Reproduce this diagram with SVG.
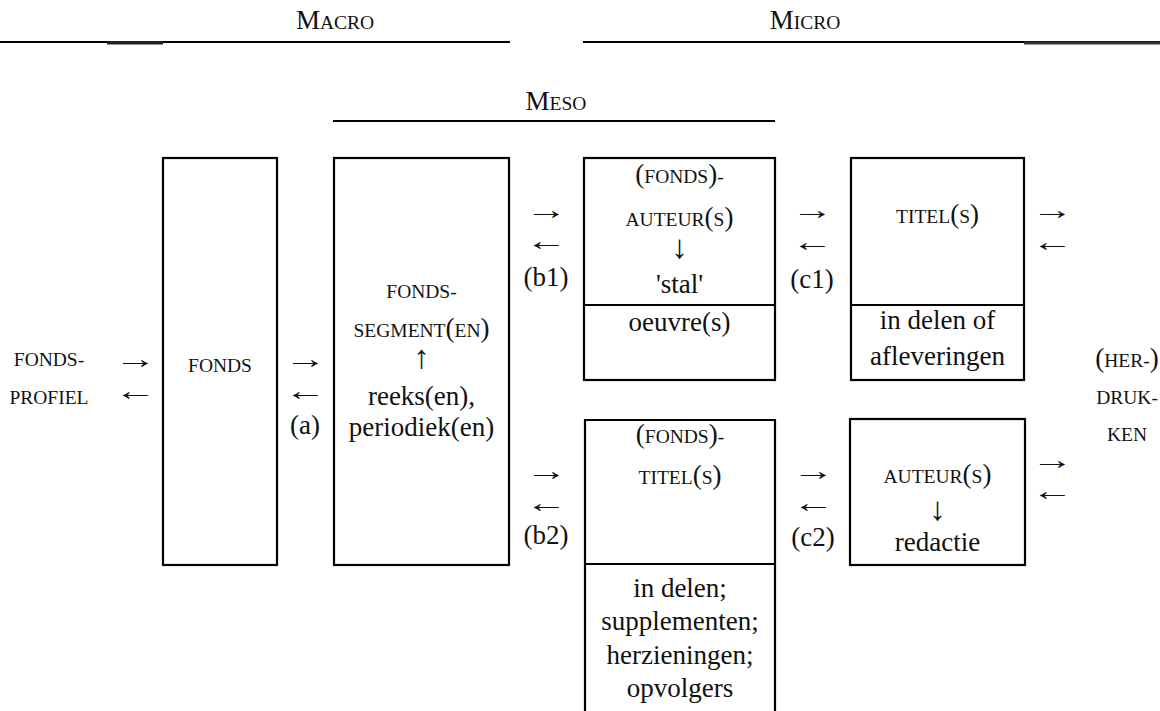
<svg xmlns="http://www.w3.org/2000/svg" width="1160" height="711" viewBox="0 0 1160 711">
<style>
.t{font-family:"Liberation Serif","Times New Roman",serif;font-size:27px;fill:#111;text-anchor:middle}
.s{font-size:19.5px}
.ar{font-size:27px}
.va{font-size:33px}
.box{fill:none;stroke:#000;stroke-width:2.2}
.ln{stroke:#000;stroke-width:2.2}
</style>
<rect width="1160" height="711" fill="#fff"/>
<g id="macro">
<line class="ln" x1="0" y1="42" x2="510" y2="42"/>
<rect x="107" y="41" width="56" height="3.5" fill="#222"/>
<text class="t" x="335" y="29">M<tspan class="s">ACRO</tspan></text>
</g>
<g id="micro">
<line class="ln" x1="583" y1="42" x2="1160" y2="42"/>
<rect x="1024" y="41.5" width="136" height="3" fill="#333"/>
<text class="t" x="805" y="29">M<tspan class="s">ICRO</tspan></text>
</g>
<g id="meso">
<line class="ln" x1="333" y1="121" x2="775" y2="121"/>
<text class="t" x="556" y="110">M<tspan class="s">ESO</tspan></text>
</g>
<g id="fondsprofiel">
<text class="t" x="49" y="366"><tspan class="s">FONDS-</tspan></text>
<text class="t" x="49" y="404"><tspan class="s">PROFIEL</tspan></text>
</g>
<g id="fonds">
<rect class="box" x="163" y="158" width="114" height="407"/>
<text class="t" x="220" y="372"><tspan class="s">FONDS</tspan></text>
</g>
<g id="fondssegment">
<rect class="box" x="334" y="158" width="175" height="407"/>
<text class="t" x="421.5" y="298"><tspan class="s">FONDS-</tspan></text>
<text class="t" x="421.5" y="337"><tspan class="s">SEGMENT</tspan>(<tspan class="s">EN</tspan>)</text>
<text class="t va" x="421.5" y="368">↑</text>
<text class="t" x="421.5" y="405">reeks(en),</text>
<text class="t" x="421.5" y="435.5">periodiek(en)</text>
</g>
<g id="fondsauteur">
<rect class="box" x="584" y="158" width="191" height="222"/>
<line class="ln" x1="584" y1="305" x2="775" y2="305"/>
<text class="t" x="679.5" y="183">(<tspan class="s">FONDS</tspan>)<tspan class="s">-</tspan></text>
<text class="t" x="679.5" y="226"><tspan class="s">AUTEUR</tspan>(<tspan class="s">S</tspan>)</text>
<text class="t va" x="679.5" y="258">↓</text>
<text class="t" x="679.5" y="293">'stal'</text>
<text class="t" x="679.5" y="331">oeuvre(s)</text>
</g>
<g id="titels">
<rect class="box" x="851" y="158" width="173" height="222"/>
<line class="ln" x1="851" y1="305" x2="1024" y2="305"/>
<text class="t" x="937.5" y="223"><tspan class="s">TITEL</tspan>(<tspan class="s">S</tspan>)</text>
<text class="t" x="937.5" y="329">in delen of</text>
<text class="t" x="937.5" y="365">afleveringen</text>
</g>
<g id="fondstitels">
<path class="box" d="M585,713 V420 H775 V713"/>
<line class="ln" x1="585" y1="564" x2="775" y2="564"/>
<text class="t" x="680" y="443">(<tspan class="s">FONDS</tspan>)<tspan class="s">-</tspan></text>
<text class="t" x="680" y="484"><tspan class="s">TITEL</tspan>(<tspan class="s">S</tspan>)</text>
<text class="t" x="680" y="597">in delen;</text>
<text class="t" x="680" y="630">supplementen;</text>
<text class="t" x="680" y="664">herzieningen;</text>
<text class="t" x="680" y="697">opvolgers</text>
</g>
<g id="auteurs">
<rect class="box" x="850" y="419" width="175" height="146"/>
<text class="t" x="937.5" y="483"><tspan class="s">AUTEUR</tspan>(<tspan class="s">S</tspan>)</text>
<text class="t va" x="937.5" y="520">↓</text>
<text class="t" x="937.5" y="551">redactie</text>
</g>
<g id="herdrukken">
<text class="t" x="1127" y="367">(<tspan class="s">HER-</tspan>)</text>
<text class="t" x="1127" y="404"><tspan class="s">DRUK-</tspan></text>
<text class="t" x="1127" y="441"><tspan class="s">KEN</tspan></text>
</g>
<g id="connectors">
<text class="t ar" x="135" y="368" textLength="42" lengthAdjust="spacingAndGlyphs">→</text>
<text class="t ar" x="135" y="400" textLength="42" lengthAdjust="spacingAndGlyphs">←</text>
<text class="t ar" x="305" y="368" textLength="42" lengthAdjust="spacingAndGlyphs">→</text>
<text class="t ar" x="305" y="400" textLength="42" lengthAdjust="spacingAndGlyphs">←</text>
<text class="t" x="305" y="434">(a)</text>
<text class="t ar" x="546" y="219" textLength="42" lengthAdjust="spacingAndGlyphs">→</text>
<text class="t ar" x="546" y="250" textLength="42" lengthAdjust="spacingAndGlyphs">←</text>
<text class="t" x="546" y="286">(b1)</text>
<text class="t ar" x="546" y="480" textLength="42" lengthAdjust="spacingAndGlyphs">→</text>
<text class="t ar" x="546" y="512" textLength="42" lengthAdjust="spacingAndGlyphs">←</text>
<text class="t" x="546" y="544">(b2)</text>
<text class="t ar" x="812" y="219" textLength="42" lengthAdjust="spacingAndGlyphs">→</text>
<text class="t ar" x="812" y="251" textLength="42" lengthAdjust="spacingAndGlyphs">←</text>
<text class="t" x="812" y="288">(c1)</text>
<text class="t ar" x="813" y="480" textLength="42" lengthAdjust="spacingAndGlyphs">→</text>
<text class="t ar" x="813" y="512" textLength="42" lengthAdjust="spacingAndGlyphs">←</text>
<text class="t" x="813" y="546">(c2)</text>
<text class="t ar" x="1052" y="219" textLength="42" lengthAdjust="spacingAndGlyphs">→</text>
<text class="t ar" x="1052" y="251" textLength="42" lengthAdjust="spacingAndGlyphs">←</text>
<text class="t ar" x="1052" y="469" textLength="42" lengthAdjust="spacingAndGlyphs">→</text>
<text class="t ar" x="1052" y="500" textLength="42" lengthAdjust="spacingAndGlyphs">←</text>
</g>
</svg>
